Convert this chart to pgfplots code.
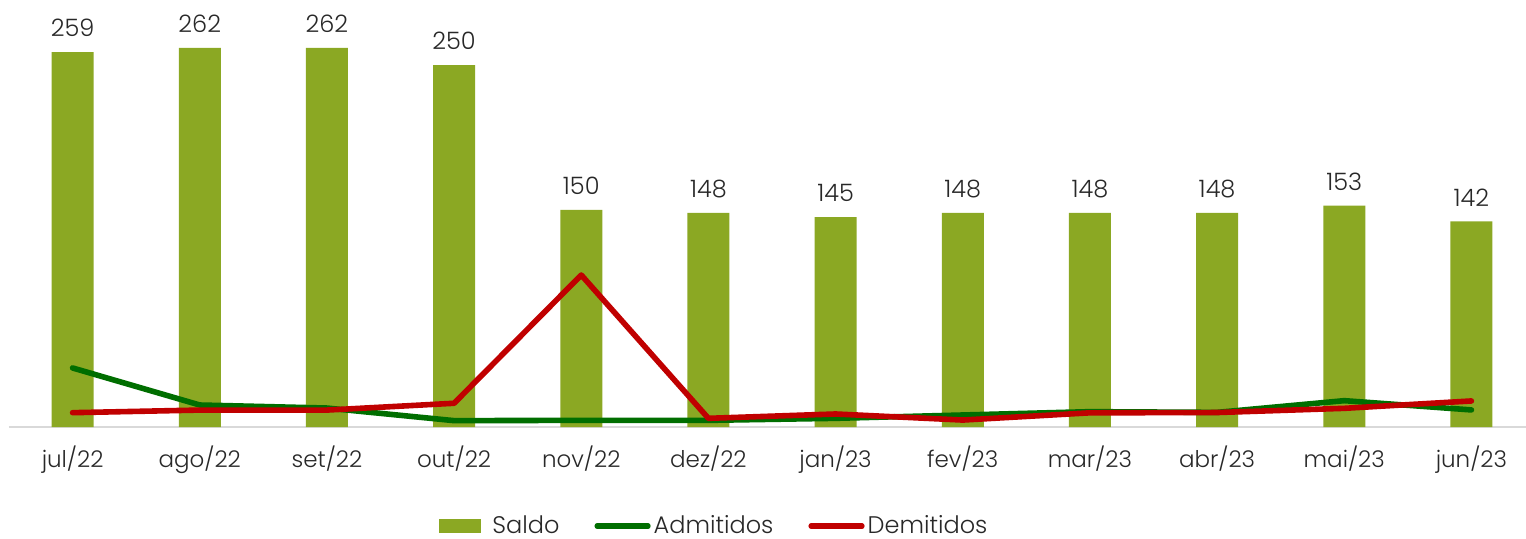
\documentclass[border=0pt]{standalone}
\usepackage{pgfplots}
\pgfplotsset{compat=1.18}
\usepackage{fontspec}
\setmainfont{Poppins}[UprightFont=* Light]
\definecolor{barc}{RGB}{139,168,35}
\definecolor{admc}{RGB}{0,110,0}
\definecolor{demc}{RGB}{192,0,0}
\definecolor{txt}{RGB}{40,40,40}
\begin{document}
\begin{tikzpicture}
\begin{axis}[
  scale only axis, at={(4.5pt,0pt)}, anchor=south west,
  width=763pt, height=213.5pt,
  xmin=-0.5, xmax=11.5, ymin=0, ymax=295,
  axis x line=bottom, axis y line=none,
  x axis line style={draw=black!15, line width=0.8pt, -},
  xtick=data, major tick length=0pt,
  xticklabels={jul/22,ago/22,set/22,out/22,nov/22,dez/22,jan/23,fev/23,mar/23,abr/23,mai/23,jun/23},
  xticklabel style={font=\fontsize{11.5}{13}\selectfont, text=txt, yshift=-6pt},
  /pgf/number format/assume math mode=true,
  legend columns=3,
  legend style={draw=none, fill=none, at={(0.4626,-0.232)}, anchor=center, font=\fontsize{12}{13}\selectfont, text=txt,
    inner sep=0pt, nodes={inner sep=1.5pt},
    /tikz/every even column/.append style={column sep=16pt}},
  clip=false,
]
\addplot[ybar, bar width=21pt, fill=barc, draw=none,
  nodes near coords, nodes near coords style={font=\fontsize{12}{13}\selectfont, text=txt, yshift=4pt},
  legend image code/.code={\fill[barc] (0pt,-3.7pt) rectangle (21pt,3.7pt); \path (25pt,0pt);}]
coordinates {(0,259) (1,262) (2,262) (3,250) (4,150) (5,148) (6,145) (7,148) (8,148) (9,148) (10,153) (11,142)};
\addlegendentry{Saldo}
\addplot[color=admc, line width=2.8pt, line cap=round, line join=round,
  legend image code/.code={\draw[line width=2.6pt, line cap=round] (1.5pt,0pt) -- (27pt,0pt);}]
coordinates {(0,40.8) (1,15.2) (2,13.1) (3,4.4) (4,4.6) (5,4.6) (6,6) (7,8.3) (8,10.6) (9,10.1) (10,18.2) (11,11.8)};
\addlegendentry{Admitidos}
\addplot[color=demc, line width=2.8pt, line cap=round, line join=round,
  legend image code/.code={\draw[line width=2.6pt, line cap=round] (1.5pt,0pt) -- (27pt,0pt);}]
coordinates {(0,9.9) (1,11.7) (2,11.7) (3,16.4) (4,105) (5,6) (6,9) (7,4.8) (8,9.8) (9,10) (10,12.9) (11,18)};
\addlegendentry{Demitidos}
\end{axis}
\pgfresetboundingbox
\path[use as bounding box] (0pt,-55.5pt) rectangle (763pt,213.5pt);
\end{tikzpicture}
\end{document}
